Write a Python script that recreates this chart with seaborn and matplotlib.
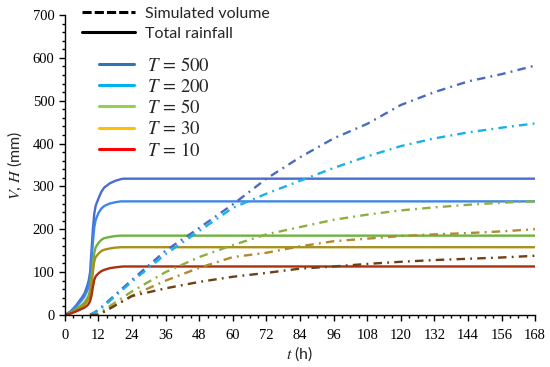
import numpy as np
import pandas as pd
import seaborn as sns
import matplotlib.pyplot as plt
from matplotlib.lines import Line2D
from matplotlib.ticker import MultipleLocator

# return periods
periods = ["500", "200", "50", "30", "10"]

# cumulative rainfall (mm) vs time (h)
t_rain = [0, 2, 4, 6, 7, 8, 8.5, 9, 9.5, 10, 10.5, 11, 12, 13, 14, 16, 18, 20, 21, 168]
rain_500 = [0, 8, 22, 40, 50, 68, 80, 100, 150, 200, 237, 255, 272, 287, 297, 307, 313, 317, 318, 318]
rain_200 = [0, 7, 19, 34, 43, 57, 67, 84, 125, 170, 205, 222, 238, 248, 254, 260, 263, 265, 265, 265]
rain_50 = [0, 5, 13, 23, 29, 39, 46, 58, 86, 118, 145, 158, 168, 175, 179, 182, 184, 185, 185, 185]
rain_30 = [0, 4, 11, 19, 24, 32, 38, 48, 70, 100, 125, 135, 143, 149, 152, 155, 157, 158, 158, 158]
rain_10 = [0, 3, 8, 14, 17, 22, 26, 32, 45, 65, 82, 90, 97, 102, 105, 109, 111, 112.5, 113, 113]

# simulated volume (mm) vs time (h)
t_vol = [9, 12, 24, 36, 48, 60, 72, 84, 96, 108, 120, 132, 144, 156, 168]
vol_500 = [0, 12, 82, 150, 203, 258, 318, 368, 412, 446, 490, 520, 545, 562, 582]
vol_200 = [0, 10, 78, 142, 196, 250, 283, 313, 343, 370, 394, 412, 426, 437, 447]
vol_50 = [0, 3, 55, 100, 135, 163, 188, 205, 222, 234, 244, 251, 257, 262, 265]
vol_30 = [0, 0, 45, 80, 110, 135, 145, 160, 172, 178, 184, 188, 191, 195, 200]
vol_10 = [0, 0, 44, 62, 77, 89, 98, 108, 113, 119, 124, 128, 131, 134, 138]

rains = [rain_500, rain_200, rain_50, rain_30, rain_10]
vols = [vol_500, vol_200, vol_50, vol_30, vol_10]

legend_colors = ["#2e75b6", "#00b0f0", "#92d050", "#ffc000", "#ff0000"]
rain_colors = ["#4a6cd0", "#3f86e6", "#6cb33f", "#a8901e", "#a8300c"]
vol_colors = ["#4a6cc0", "#1ab0e8", "#8cb040", "#b08a30", "#6e4016"]

sns.set_style("ticks")
plt.rcParams["mathtext.fontset"] = "stix"

fig, ax = plt.subplots(figsize=(5.5, 3.67), dpi=100)
fig.subplots_adjust(left=0.118, right=0.973, bottom=0.142, top=0.959)

for r, c in zip(rains, rain_colors):
    df = pd.DataFrame({"t": t_rain, "v": r})
    sns.lineplot(data=df, x="t", y="v", ax=ax, color=c, lw=1.7)

for v, c in zip(vols, vol_colors):
    df = pd.DataFrame({"t": t_vol, "v": v})
    sns.lineplot(data=df, x="t", y="v", ax=ax, color=c, lw=1.7,
                 linestyle=(0, (3.6, 2.2, 0.8, 2.2)))

ax.set_xlim(0, 168)
ax.set_ylim(0, 700)
ax.xaxis.set_major_locator(MultipleLocator(12))
ax.xaxis.set_minor_locator(MultipleLocator(3))
ax.yaxis.set_major_locator(MultipleLocator(100))
ax.yaxis.set_minor_locator(MultipleLocator(20))
ax.tick_params(which="major", length=4, width=1, direction="out", colors="black",
               labelsize=10.5)
ax.tick_params(axis="x", which="major", pad=6)
ax.tick_params(which="minor", length=2.5, width=1, direction="out", colors="black")
for lab in ax.get_xticklabels() + ax.get_yticklabels():
    lab.set_fontfamily("Liberation Serif")
for s in ["left", "bottom"]:
    ax.spines[s].set_color("black")
    ax.spines[s].set_linewidth(1)
sns.despine(ax=ax)

ax.set_xlabel("$t$ (h)", fontsize=11.5, family="Lato", labelpad=2)
ax.set_ylabel("$V$, $H$ (mm)", fontsize=11.5, family="Lato", labelpad=6)

# legend: line types
h1 = [Line2D([], [], color="black", lw=2.2, linestyle=(0, (3, 1))),
      Line2D([], [], color="black", lw=2.2)]
leg1 = ax.legend(h1, ["Simulated volume", "Total rainfall"], loc="upper left",
                 bbox_to_anchor=(0.036, 1.028), frameon=False,
                 handlelength=3.3, handletextpad=0.65, labelspacing=0.35,
                 borderpad=0, borderaxespad=0, prop={"family": "Lato", "size": 11.5})
ax.add_artist(leg1)

# legend: return periods
h2 = [Line2D([], [], color=c, lw=2.2) for c in legend_colors]
ax.legend(h2, [f"$T\\,=\\,{p}$" for p in periods], loc="upper left",
          bbox_to_anchor=(0.072, 0.865), frameon=False,
          handlelength=1.9, handletextpad=0.65, labelspacing=0.12,
          borderpad=0, borderaxespad=0, prop={"size": 13.5})

fig.savefig("out.png", dpi=100)
